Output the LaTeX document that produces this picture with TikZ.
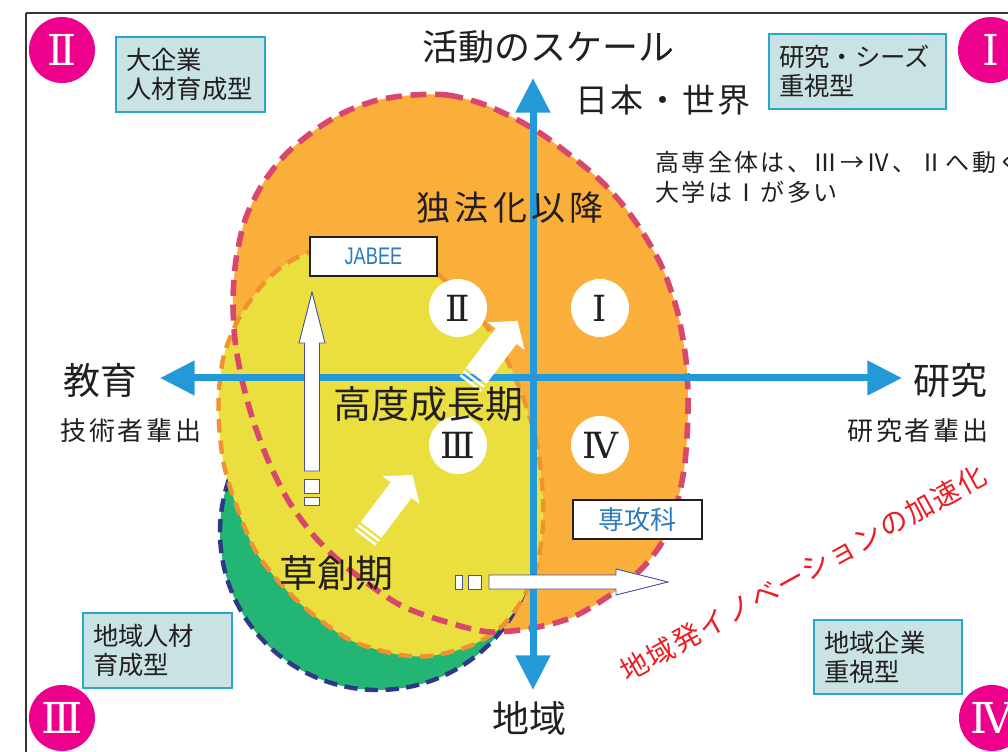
\documentclass[tikz,border=0pt]{standalone}
\usepackage{fontspec}
\usepackage{graphicx}
\setmainfont{Noto Sans CJK JP}
\newfontfamily\numfont{DejaVu Serif}
\newfontfamily\latfont{Liberation Sans}
\usepackage{tikz}
\usetikzlibrary{arrows.meta}

\definecolor{axisblue}{HTML}{239AD7}
\definecolor{ink}{HTML}{231F20}
\definecolor{badgepink}{HTML}{EC008C}
\definecolor{zoneorange}{HTML}{FAAF3B}
\definecolor{zoneyellow}{HTML}{EADF3F}
\definecolor{zonegreen}{HTML}{22B573}
\definecolor{rimred}{HTML}{DA476C}
\definecolor{rimorange}{HTML}{F0922D}
\definecolor{rimnavy}{HTML}{2E3788}
\definecolor{boxfill}{HTML}{C9E3E5}
\definecolor{boxedge}{HTML}{2AA5CC}
\definecolor{tagblue}{HTML}{2C7BBE}
\definecolor{hollowedge}{HTML}{4A4F9C}
\definecolor{shoutred}{HTML}{ED1C24}

\newcommand\outerblob{plot[smooth cycle] coordinates {(413,95) (447,95) (480,103)
  (512,117) (540,133) (570,155) (600,180) (623,205) (643,233) (662,267) (677,310)
  (686,360) (688,410) (684,470) (670,527) (647,563) (613,593) (573,617) (533,628)
  (490,632) (450,623) (400,605) (350,570) (315,537) (288,500) (268,460) (253,420)
  (242,380) (235,340) (233,300) (236,260) (245,220) (262,185) (285,155) (315,130)
  (345,112) (378,100)}}
\newcommand\innerblob{plot[smooth cycle] coordinates {(307,253) (340,245) (372,243)
  (405,250) (433,270) (460,295) (487,327) (508,362) (524,400) (536,440) (542,483)
  (543,525) (537,565) (522,600) (500,628) (470,646) (430,656) (395,654) (350,640)
  (310,612) (280,583) (255,550) (236,505) (224,465) (219,425) (219,390) (224,355)
  (238,320) (258,290) (280,268)}}

\begin{document}
\begin{tikzpicture}[x=0.75pt,y=-0.75pt,
  frame/.style={draw=ink!90,line width=1.5pt},
  axis/.style={draw=axisblue,line width=5.25pt,
    arrows={Triangle[length=26pt,width=25pt]-Triangle[length=26pt,width=25pt]}},
  hollow/.style={draw=hollowedge,fill=white,line width=0.7pt},
  quad/.style={circle,fill=white,minimum size=43.5pt,inner sep=0pt,text=ink,
    font=\numfont\fontsize{27pt}{30pt}\selectfont},
  badge/.style={circle,fill=badgepink,minimum size=49.5pt,inner sep=0pt,text=white,
    font=\numfont\fontsize{32pt}{36pt}\selectfont},
  infobox/.style={draw=boxedge,fill=boxfill,line width=1.5pt,anchor=north west,
    align=left,inner xsep=7.5pt,text=ink,font=\fontsize{19pt}{21.75pt}\selectfont},
  tag/.style={draw=ink,fill=white,line width=1.1pt,inner sep=0pt,text=tagblue},
  big/.style={text=ink,inner sep=0pt,font=\fontsize{28.5pt}{32pt}\selectfont},
  lab/.style={text=ink,inner sep=0pt,font=\fontsize{27.75pt}{32pt}\selectfont},
  sub/.style={text=ink,inner sep=0pt,
    font=\fontsize{19.5pt}{23pt}\selectfont\addfontfeature{LetterSpace=10}},
  note/.style={text=ink,inner sep=0pt,anchor=west,
    font=\fontsize{18pt}{22pt}\selectfont\addfontfeature{LetterSpace=10}}]
\useasboundingbox (0,0) rectangle (1008,752);
\draw[frame] (26,13) -- (1008,13);
\draw[frame] (26,13) -- (26,752);

\fill[zoneorange] \outerblob;
\filldraw[fill=zonegreen,draw=rimnavy,line width=3.3pt,dash pattern=on 10pt off 5.5pt]
  (378,532) circle[radius=158];
\filldraw[fill=zoneyellow,draw=rimorange,line width=3.3pt,dash pattern=on 10pt off 6pt]
  \innerblob;
\draw[rimred,line width=4.2pt,dash pattern=on 12pt off 6.5pt] \outerblob;

\coordinate (eduTip) at (160,378);
\coordinate (resTip) at (902,378);
\coordinate (topTip) at (533,78);
\coordinate (botTip) at (533,690);
\draw[axis] (eduTip) -- (resTip);
\draw[axis] (topTip) -- (botTip);

\node[quad] (q2) at (458,308) {Ⅱ};
\node[quad] (q1) at (600,308) {Ⅰ};
\node[quad] (q3) at (458,445) {Ⅲ};
\node[quad] (q4) at (600,445) {Ⅳ};

\begin{scope}[shift={(365,538)},rotate=53]
  \fill[white] (0,-13) rectangle (2.5,13);
  \fill[white] (5,-13) rectangle (7.5,13);
  \fill[white] (10,-13) -- (60,-13) -- (60,-23) -- (79,0) -- (60,23) -- (60,13) -- (10,13) -- cycle;
\end{scope}
\begin{scope}[shift={(470,384)},rotate=53]
  \fill[white] (0,-13) rectangle (2.5,13);
  \fill[white] (5,-13) rectangle (7.5,13);
  \fill[white] (10,-13) -- (60,-13) -- (60,-23) -- (79,0) -- (60,23) -- (60,13) -- (10,13) -- cycle;
\end{scope}

\draw[hollow] (304.5,471) -- (304.5,343) -- (299,343) -- (312,292) -- (325,343)
  -- (319.5,343) -- (319.5,471) -- cycle;
\draw[hollow] (304.5,479) rectangle (319.5,493);
\draw[hollow] (304.5,497) rectangle (319.5,505);
\draw[hollow] (489,575) -- (616,575) -- (616,569) -- (668,582) -- (616,595)
  -- (616,589) -- (489,589) -- cycle;
\draw[hollow] (455,575) rectangle (462,589);
\draw[hollow] (468,575) rectangle (481,589);

\node[tag,minimum width=95.25pt,minimum height=29.25pt] (jabee) at (373.5,256.5)
  {\latfont\fontsize{18pt}{20pt}\selectfont\scalebox{0.76}[1]{JABEE}};
\node[tag,minimum width=96.75pt,minimum height=29.25pt] (senkou) at (637.5,519.5)
  {\fontsize{19.5pt}{22pt}\selectfont 専攻科};

\node[badge] (b2) at (62,50) {Ⅱ};
\node[badge] (b1) at (991,50) {Ⅰ};
\node[badge] (b3) at (62,718) {Ⅲ};
\node[badge] (b4) at (992,718) {Ⅳ};

\node[infobox,minimum width=111.75pt,minimum height=56.25pt,text width=96.75pt]
  (bigco) at (115,36) {大企業\\人材育成型};
\node[infobox,minimum width=132.75pt,minimum height=56.25pt,text width=117.75pt]
  (seeds) at (768,33) {研究・シーズ\\重視型};
\node[infobox,minimum width=111.75pt,minimum height=56.25pt,text width=96.75pt]
  (localhr) at (82,612) {地域人材\\育成型};
\node[infobox,minimum width=111pt,minimum height=55.5pt,text width=96pt]
  (localco) at (813,619) {地域企業\\重視型};

\node[text=ink,inner sep=0pt,font=\fontsize{27pt}{32pt}\selectfont] (scale) at (548,47) {活動のスケール};
\node[text=ink,inner sep=0pt,font=\fontsize{24.75pt}{30pt}\selectfont\addfontfeature{LetterSpace=8}]
  (world) at (663,100) {日本・世界};
\node[lab] (edu) at (100,380) {教育};
\node[sub] (eduSub) at (131,431) {技術者輩出};
\node[lab] (res) at (950,380) {研究};
\node[sub] (resSub) at (918,431) {研究者輩出};
\node[lab] (local) at (529,718) {地域};
\node[note] (memo1) at (655,162) {高専全体は、Ⅲ→Ⅳ、Ⅱへ動く};
\node[note] (memo2) at (655,192) {大学はⅠが多い};

\node[text=ink,inner sep=0pt,font=\fontsize{25.5pt}{30pt}\selectfont\addfontfeature{LetterSpace=12}]
  (dokuho) at (510,208) {独法化以降};
\node[big] (kodo) at (428,404) {高度成長期};
\node[big] (soso) at (336,573) {草創期};
\node[text=shoutred,inner sep=0pt,rotate=29,
  font=\fontsize{21pt}{24pt}\selectfont\addfontfeature{LetterSpace=6}]
  (innov) at (803,573) {地域発イノベーションの加速化};
\end{tikzpicture}
\end{document}
